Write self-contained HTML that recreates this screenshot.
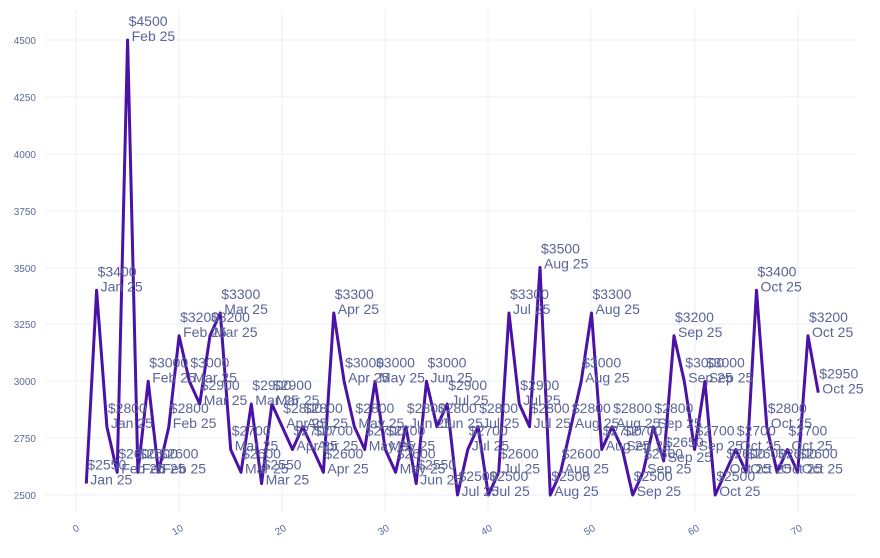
<!DOCTYPE html>
<html><head><meta charset="utf-8"><style>
body{margin:0;background:#fff}
svg{display:block;font-family:"Liberation Sans",sans-serif}
.t{fill:#5b6499;font-size:14px}
.ax{fill:#5b6b9b;font-size:10px}
</style></head><body>
<svg width="880" height="558" viewBox="0 0 880 558">
<g stroke="#eeeefb" stroke-width="1">
<line x1="45" x2="855" y1="495" y2="495"/><line x1="45" x2="855" y1="438" y2="438"/><line x1="45" x2="855" y1="381" y2="381"/><line x1="45" x2="855" y1="324" y2="324"/><line x1="45" x2="855" y1="268" y2="268"/><line x1="45" x2="855" y1="211" y2="211"/><line x1="45" x2="855" y1="154" y2="154"/><line x1="45" x2="855" y1="97" y2="97"/><line x1="45" x2="855" y1="40" y2="40"/>
<line y1="10" y2="512" x1="76" x2="76"/><line y1="10" y2="512" x1="179" x2="179"/><line y1="10" y2="512" x1="282" x2="282"/><line y1="10" y2="512" x1="385" x2="385"/><line y1="10" y2="512" x1="488" x2="488"/><line y1="10" y2="512" x1="591" x2="591"/><line y1="10" y2="512" x1="695" x2="695"/><line y1="10" y2="512" x1="798" x2="798"/>
</g>
<g class="ax" text-anchor="end">
<text x="36" y="499">2500</text><text x="36" y="442">2750</text><text x="36" y="385">3000</text><text x="36" y="328">3250</text><text x="36" y="272">3500</text><text x="36" y="215">3750</text><text x="36" y="158">4000</text><text x="36" y="101">4250</text><text x="36" y="44">4500</text>
</g>
<g class="ax" text-anchor="end">
<text transform="translate(80,530) rotate(-30)">0</text><text transform="translate(184,530) rotate(-30)">10</text><text transform="translate(287,530) rotate(-30)">20</text><text transform="translate(390,530) rotate(-30)">30</text><text transform="translate(493,530) rotate(-30)">40</text><text transform="translate(596,530) rotate(-30)">50</text><text transform="translate(700,530) rotate(-30)">60</text><text transform="translate(803,530) rotate(-30)">70</text>
</g>
<polyline fill="none" stroke="#4a12a6" stroke-width="3" stroke-linejoin="round" points="86.3,483.6 96.6,290.3 106.9,426.8 117.2,472.3 127.6,40 137.9,472.3 148.2,381.3 158.5,472.3 168.8,426.8 179.1,335.8 189.4,381.3 199.7,404 210,335.8 220.3,313 230.7,449.5 241,472.3 251.3,404 261.6,483.6 271.9,404 282.2,426.8 292.5,449.5 302.8,426.8 313.1,449.5 323.4,472.3 333.8,313 344.1,381.3 354.4,426.8 364.7,449.5 375,381.3 385.3,449.5 395.6,472.3 405.9,426.8 416.2,483.6 426.5,381.3 436.9,426.8 447.2,404 457.5,495 467.8,449.5 478.1,426.8 488.4,495 498.7,472.3 509,313 519.3,404 529.6,426.8 540,267.5 550.3,495 560.6,472.3 570.9,426.8 581.2,381.3 591.5,313 601.8,449.5 612.1,426.8 622.4,449.5 632.7,495 643.1,472.3 653.4,426.8 663.7,460.9 674,335.8 684.3,381.3 694.6,449.5 704.9,381.3 715.2,495 725.5,472.3 735.8,449.5 746.2,472.3 756.5,290.3 766.8,426.8 777.1,472.3 787.4,449.5 797.7,472.3 808,335.8 818.3,392.7"/>
<g class="t">
<text transform="translate(86.3,483.6)"><tspan x="1" y="-14">$2550</tspan><tspan x="4" y="1">Jan 25</tspan></text>
<text transform="translate(96.6,290.3)"><tspan x="1" y="-14">$3400</tspan><tspan x="4" y="1">Jan 25</tspan></text>
<text transform="translate(106.9,426.8)"><tspan x="1" y="-14">$2800</tspan><tspan x="4" y="1">Jan 25</tspan></text>
<text transform="translate(117.2,472.3)"><tspan x="1" y="-14">$2600</tspan><tspan x="4" y="1">Feb 25</tspan></text>
<text transform="translate(127.6,40)"><tspan x="1" y="-14">$4500</tspan><tspan x="4" y="1">Feb 25</tspan></text>
<text transform="translate(137.9,472.3)"><tspan x="1" y="-14">$2600</tspan><tspan x="4" y="1">Feb 25</tspan></text>
<text transform="translate(148.2,381.3)"><tspan x="1" y="-14">$3000</tspan><tspan x="4" y="1">Feb 25</tspan></text>
<text transform="translate(158.5,472.3)"><tspan x="1" y="-14">$2600</tspan><tspan x="4" y="1">Feb 25</tspan></text>
<text transform="translate(168.8,426.8)"><tspan x="1" y="-14">$2800</tspan><tspan x="4" y="1">Feb 25</tspan></text>
<text transform="translate(179.1,335.8)"><tspan x="1" y="-14">$3200</tspan><tspan x="4" y="1">Feb 25</tspan></text>
<text transform="translate(189.4,381.3)"><tspan x="1" y="-14">$3000</tspan><tspan x="4" y="1">Mar 25</tspan></text>
<text transform="translate(199.7,404)"><tspan x="1" y="-14">$2900</tspan><tspan x="4" y="1">Mar 25</tspan></text>
<text transform="translate(210,335.8)"><tspan x="1" y="-14">$3200</tspan><tspan x="4" y="1">Mar 25</tspan></text>
<text transform="translate(220.3,313)"><tspan x="1" y="-14">$3300</tspan><tspan x="4" y="1">Mar 25</tspan></text>
<text transform="translate(230.7,449.5)"><tspan x="1" y="-14">$2700</tspan><tspan x="4" y="1">Mar 25</tspan></text>
<text transform="translate(241,472.3)"><tspan x="1" y="-14">$2600</tspan><tspan x="4" y="1">Mar 25</tspan></text>
<text transform="translate(251.3,404)"><tspan x="1" y="-14">$2900</tspan><tspan x="4" y="1">Mar 25</tspan></text>
<text transform="translate(261.6,483.6)"><tspan x="1" y="-14">$2550</tspan><tspan x="4" y="1">Mar 25</tspan></text>
<text transform="translate(271.9,404)"><tspan x="1" y="-14">$2900</tspan><tspan x="4" y="1">Mar 25</tspan></text>
<text transform="translate(282.2,426.8)"><tspan x="1" y="-14">$2800</tspan><tspan x="4" y="1">Apr 25</tspan></text>
<text transform="translate(292.5,449.5)"><tspan x="1" y="-14">$2700</tspan><tspan x="4" y="1">Apr 25</tspan></text>
<text transform="translate(302.8,426.8)"><tspan x="1" y="-14">$2800</tspan><tspan x="4" y="1">Apr 25</tspan></text>
<text transform="translate(313.1,449.5)"><tspan x="1" y="-14">$2700</tspan><tspan x="4" y="1">Apr 25</tspan></text>
<text transform="translate(323.4,472.3)"><tspan x="1" y="-14">$2600</tspan><tspan x="4" y="1">Apr 25</tspan></text>
<text transform="translate(333.8,313)"><tspan x="1" y="-14">$3300</tspan><tspan x="4" y="1">Apr 25</tspan></text>
<text transform="translate(344.1,381.3)"><tspan x="1" y="-14">$3000</tspan><tspan x="4" y="1">Apr 25</tspan></text>
<text transform="translate(354.4,426.8)"><tspan x="1" y="-14">$2800</tspan><tspan x="4" y="1">May 25</tspan></text>
<text transform="translate(364.7,449.5)"><tspan x="1" y="-14">$2700</tspan><tspan x="4" y="1">May 25</tspan></text>
<text transform="translate(375,381.3)"><tspan x="1" y="-14">$3000</tspan><tspan x="4" y="1">May 25</tspan></text>
<text transform="translate(385.3,449.5)"><tspan x="1" y="-14">$2700</tspan><tspan x="4" y="1">May 25</tspan></text>
<text transform="translate(395.6,472.3)"><tspan x="1" y="-14">$2600</tspan><tspan x="4" y="1">May 25</tspan></text>
<text transform="translate(405.9,426.8)"><tspan x="1" y="-14">$2800</tspan><tspan x="4" y="1">Jun 25</tspan></text>
<text transform="translate(416.2,483.6)"><tspan x="1" y="-14">$2550</tspan><tspan x="4" y="1">Jun 25</tspan></text>
<text transform="translate(426.5,381.3)"><tspan x="1" y="-14">$3000</tspan><tspan x="4" y="1">Jun 25</tspan></text>
<text transform="translate(436.9,426.8)"><tspan x="1" y="-14">$2800</tspan><tspan x="4" y="1">Jun 25</tspan></text>
<text transform="translate(447.2,404)"><tspan x="1" y="-14">$2900</tspan><tspan x="4" y="1">Jul 25</tspan></text>
<text transform="translate(457.5,495)"><tspan x="1" y="-14">$2500</tspan><tspan x="4" y="1">Jul 25</tspan></text>
<text transform="translate(467.8,449.5)"><tspan x="1" y="-14">$2700</tspan><tspan x="4" y="1">Jul 25</tspan></text>
<text transform="translate(478.1,426.8)"><tspan x="1" y="-14">$2800</tspan><tspan x="4" y="1">Jul 25</tspan></text>
<text transform="translate(488.4,495)"><tspan x="1" y="-14">$2500</tspan><tspan x="4" y="1">Jul 25</tspan></text>
<text transform="translate(498.7,472.3)"><tspan x="1" y="-14">$2600</tspan><tspan x="4" y="1">Jul 25</tspan></text>
<text transform="translate(509,313)"><tspan x="1" y="-14">$3300</tspan><tspan x="4" y="1">Jul 25</tspan></text>
<text transform="translate(519.3,404)"><tspan x="1" y="-14">$2900</tspan><tspan x="4" y="1">Jul 25</tspan></text>
<text transform="translate(529.6,426.8)"><tspan x="1" y="-14">$2800</tspan><tspan x="4" y="1">Jul 25</tspan></text>
<text transform="translate(540,267.5)"><tspan x="1" y="-14">$3500</tspan><tspan x="4" y="1">Aug 25</tspan></text>
<text transform="translate(550.3,495)"><tspan x="1" y="-14">$2500</tspan><tspan x="4" y="1">Aug 25</tspan></text>
<text transform="translate(560.6,472.3)"><tspan x="1" y="-14">$2600</tspan><tspan x="4" y="1">Aug 25</tspan></text>
<text transform="translate(570.9,426.8)"><tspan x="1" y="-14">$2800</tspan><tspan x="4" y="1">Aug 25</tspan></text>
<text transform="translate(581.2,381.3)"><tspan x="1" y="-14">$3000</tspan><tspan x="4" y="1">Aug 25</tspan></text>
<text transform="translate(591.5,313)"><tspan x="1" y="-14">$3300</tspan><tspan x="4" y="1">Aug 25</tspan></text>
<text transform="translate(601.8,449.5)"><tspan x="1" y="-14">$2700</tspan><tspan x="4" y="1">Aug 25</tspan></text>
<text transform="translate(612.1,426.8)"><tspan x="1" y="-14">$2800</tspan><tspan x="4" y="1">Aug 25</tspan></text>
<text transform="translate(622.4,449.5)"><tspan x="1" y="-14">$2700</tspan><tspan x="4" y="1">Sep 25</tspan></text>
<text transform="translate(632.7,495)"><tspan x="1" y="-14">$2500</tspan><tspan x="4" y="1">Sep 25</tspan></text>
<text transform="translate(643.1,472.3)"><tspan x="1" y="-14">$2600</tspan><tspan x="4" y="1">Sep 25</tspan></text>
<text transform="translate(653.4,426.8)"><tspan x="1" y="-14">$2800</tspan><tspan x="4" y="1">Sep 25</tspan></text>
<text transform="translate(663.7,460.9)"><tspan x="1" y="-14">$2650</tspan><tspan x="4" y="1">Sep 25</tspan></text>
<text transform="translate(674,335.8)"><tspan x="1" y="-14">$3200</tspan><tspan x="4" y="1">Sep 25</tspan></text>
<text transform="translate(684.3,381.3)"><tspan x="1" y="-14">$3000</tspan><tspan x="4" y="1">Sep 25</tspan></text>
<text transform="translate(694.6,449.5)"><tspan x="1" y="-14">$2700</tspan><tspan x="4" y="1">Sep 25</tspan></text>
<text transform="translate(704.9,381.3)"><tspan x="1" y="-14">$3000</tspan><tspan x="4" y="1">Sep 25</tspan></text>
<text transform="translate(715.2,495)"><tspan x="1" y="-14">$2500</tspan><tspan x="4" y="1">Oct 25</tspan></text>
<text transform="translate(725.5,472.3)"><tspan x="1" y="-14">$2600</tspan><tspan x="4" y="1">Oct 25</tspan></text>
<text transform="translate(735.8,449.5)"><tspan x="1" y="-14">$2700</tspan><tspan x="4" y="1">Oct 25</tspan></text>
<text transform="translate(746.2,472.3)"><tspan x="1" y="-14">$2600</tspan><tspan x="4" y="1">Oct 25</tspan></text>
<text transform="translate(756.5,290.3)"><tspan x="1" y="-14">$3400</tspan><tspan x="4" y="1">Oct 25</tspan></text>
<text transform="translate(766.8,426.8)"><tspan x="1" y="-14">$2800</tspan><tspan x="4" y="1">Oct 25</tspan></text>
<text transform="translate(777.1,472.3)"><tspan x="1" y="-14">$2600</tspan><tspan x="4" y="1">Oct 25</tspan></text>
<text transform="translate(787.4,449.5)"><tspan x="1" y="-14">$2700</tspan><tspan x="4" y="1">Oct 25</tspan></text>
<text transform="translate(797.7,472.3)"><tspan x="1" y="-14">$2600</tspan><tspan x="4" y="1">Oct 25</tspan></text>
<text transform="translate(808,335.8)"><tspan x="1" y="-14">$3200</tspan><tspan x="4" y="1">Oct 25</tspan></text>
<text transform="translate(818.3,392.7)"><tspan x="1" y="-14">$2950</tspan><tspan x="4" y="1">Oct 25</tspan></text>
</g>
</svg>
</body></html>
